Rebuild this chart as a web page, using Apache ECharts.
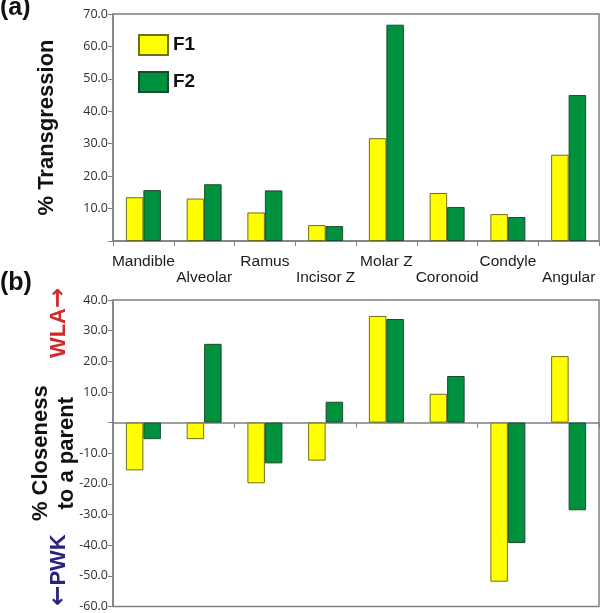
<!DOCTYPE html>
<html>
<head>
<meta charset="utf-8">
<script src="https://cdn.jsdelivr.net/npm/echarts@6/dist/echarts.min.js"></script>
<style>
html,body{margin:0;padding:0;background:#fff;}
#chart{width:600px;height:613px;}
</style>
</head>
<body>
<div id="chart"></div>
<script>
// ---- data ----
const categories = ['Mandible', 'Alveolar', 'Ramus', 'Incisor Z', 'Molar Z', 'Coronoid', 'Condyle', 'Angular'];
const seriesNames = ['F1', 'F2'];
const transF1 = [13.5, 13.1, 8.8, 4.9, 31.7, 14.8, 8.3, 26.6];
const transF2 = [15.7, 17.5, 15.6, 4.6, 66.7, 10.5, 7.4, 45.0];
const closeF1 = [-15.6, -5.4, -19.8, -12.4, 34.8, 9.4, -51.9, 21.7];
const closeF2 = [-5.4, 25.7, -13.3, 6.8, 33.8, 15.2, -39.3, -28.6];
const panelLabels = ['(a)', '(b)'];
const topAxisTitle = '% Transgression';
const bottomAxisTitle = '% Closeness\nto a parent';
const upWord = 'WLA', upArrow = '\u2192';
const downWord = 'PWK', downArrow = '\u2190';

// ---- styles ----
const AXIS = '#808080';
const F1C = '#ffff00', F1B = '#6e6e1e';
const F2C = '#00913f', F2B = '#1e4a2c';
const tickFmt = v => (v === 0 ? '' : v.toFixed(1));
const yLabel = { color: '#2e2e2e', fontFamily: 'Open Sans', fontSize: 12.5, margin: 5, formatter: tickFmt };

const chart = echarts.init(document.getElementById('chart'), null, { renderer: 'canvas' });

function bar(name, data, xi, color, border) {
  return {
    type: 'bar', name: name, data: data, xAxisIndex: xi, yAxisIndex: xi,
    barWidth: 17.5, barGap: '0%',
    itemStyle: { color: color, borderColor: border, borderWidth: 1 },
    emphasis: { disabled: true }, animation: false
  };
}

const option = {
  animation: false,
  textStyle: { fontFamily: 'Liberation Sans' },
  grid: [
    { left: 113, top: 14, width: 486, height: 227, show: true, borderColor: AXIS, borderWidth: 1.5, backgroundColor: 'transparent' },
    { left: 113, top: 300, width: 486, height: 308, show: true, borderColor: AXIS, borderWidth: 1.5, backgroundColor: 'transparent' }
  ],
  legend: {
    data: seriesNames, orient: 'vertical', left: 133, top: 29,
    itemWidth: 29, itemHeight: 20, itemGap: 15, icon: 'rect',
    textStyle: { fontSize: 19, fontWeight: 'bold', color: '#111', fontFamily: 'Liberation Sans' }
  },
  xAxis: [
    {
      type: 'category', data: categories, gridIndex: 0,
      axisLine: { lineStyle: { color: AXIS, width: 1.5 } },
      axisTick: { show: true, length: 5, lineStyle: { color: AXIS } },
      axisLabel: {
        interval: 0, margin: 13, color: '#1a1a1a', fontSize: 15.5, lineHeight: 16,
        fontFamily: 'Liberation Sans',
        formatter: (v, i) => (i % 2 ? '\n' + v : v)
      },
      splitLine: { show: false }
    },
    {
      type: 'category', data: categories, gridIndex: 1,
      axisLine: { onZero: true, lineStyle: { color: AXIS, width: 1.5 } },
      axisTick: { show: true, length: 5, lineStyle: { color: AXIS } },
      axisLabel: { show: false },
      splitLine: { show: false }
    }
  ],
  yAxis: [
    {
      type: 'value', gridIndex: 0, min: 0, max: 70, interval: 10,
      name: topAxisTitle, nameLocation: 'middle', nameRotate: 90, nameGap: 55, nameMoveOverlap: false,
      nameTextStyle: { fontSize: 22, fontWeight: 'bold', color: '#111', fontFamily: 'Liberation Sans' },
      axisLine: { show: true, lineStyle: { color: AXIS, width: 1.5 } },
      axisTick: { show: true, length: 5, lineStyle: { color: AXIS } },
      axisLabel: yLabel,
      splitLine: { show: false }
    },
    {
      type: 'value', gridIndex: 1, min: -60, max: 40, interval: 10,
      name: bottomAxisTitle, nameLocation: 'middle', nameRotate: 90, nameGap: 33, nameMoveOverlap: false,
      nameTextStyle: { fontSize: 22, fontWeight: 'bold', color: '#111', lineHeight: 26, fontFamily: 'Liberation Sans' },
      axisLine: { show: true, onZero: false, lineStyle: { color: AXIS, width: 1.5 } },
      axisTick: { show: true, length: 5, lineStyle: { color: AXIS } },
      axisLabel: yLabel,
      splitLine: { show: false }
    }
  ],
  series: [
    bar(seriesNames[0], transF1, 0, F1C, F1B),
    bar(seriesNames[1], transF2, 0, F2C, F2B),
    bar(seriesNames[0], closeF1, 1, F1C, F1B),
    bar(seriesNames[1], closeF2, 1, F2C, F2B)
  ],
  graphic: [
    { type: 'text', left: 0, top: -4, style: { text: panelLabels[0], fontSize: 25, fontWeight: 'bold', fill: '#111', fontFamily: 'Liberation Sans' } },
    { type: 'text', left: 0, top: 271, style: { text: panelLabels[1], fontSize: 25, fontWeight: 'bold', fill: '#111', fontFamily: 'Liberation Sans' } },
    { type: 'text', x: 59, y: 323, rotation: Math.PI / 2, style: {
        text: '{w|' + upWord + '}{a|' + upArrow + '}', align: 'center', verticalAlign: 'middle', fill: '#d62828',
        rich: {
          w: { fontSize: 22, fontWeight: 'bold', fill: '#d62828', fontFamily: 'Liberation Sans' },
          a: { fontSize: 24, fontWeight: 'bold', fill: '#d62828', fontFamily: 'DejaVu Sans' }
        } } },
    { type: 'text', x: 59, y: 570, rotation: Math.PI / 2, style: {
        text: '{a|' + downArrow + '}{w|' + downWord + '}', align: 'center', verticalAlign: 'middle', fill: '#28237f',
        rich: {
          w: { fontSize: 22, fontWeight: 'bold', fill: '#28237f', fontFamily: 'Liberation Sans' },
          a: { fontSize: 24, fontWeight: 'bold', fill: '#28237f', fontFamily: 'DejaVu Sans' }
        } } }
  ]
};
chart.setOption(option);
</script>
</body>
</html>
